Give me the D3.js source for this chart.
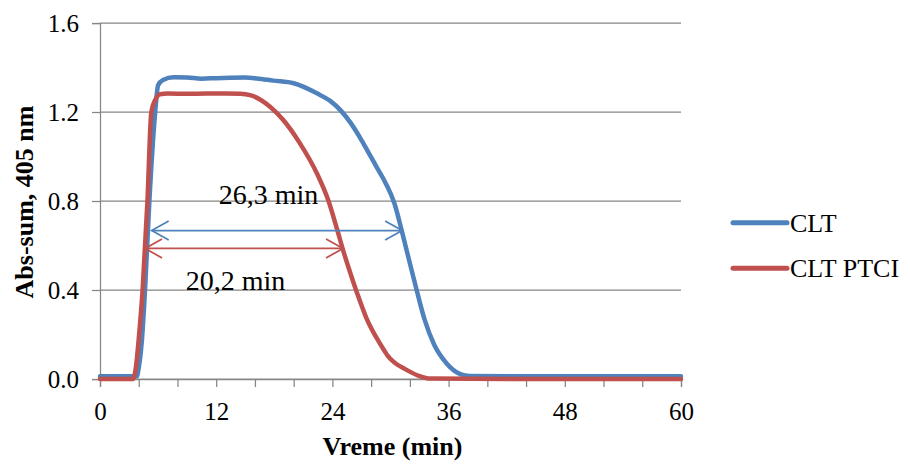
<!DOCTYPE html>
<html>
<head>
<meta charset="utf-8">
<script src="https://cdnjs.cloudflare.com/ajax/libs/d3/7.8.5/d3.min.js"></script>
<style>
  body { margin: 0; background: #fff; }
  svg text { font-family: 'Liberation Serif', 'Times New Roman', serif; }
</style>
</head>
<body>
<script>
// CLT series: time (min) and absorbance sum at 405 nm
const cltTime = [0, 3.8, 4.0, 4.3, 4.65, 5.1, 5.7, 6.0, 6.5, 7.6, 9, 10.5, 12, 15, 16.2, 17.9, 20.0, 22.4, 23.7, 24.9, 25.9, 26.85, 27.7, 28.6, 29.5, 30.4, 31.2, 32.0, 32.7, 33.5, 34.5, 35.8, 37.2, 38.2, 45, 60]
const cltAbs = [0.012, 0.012, 0.05, 0.16, 0.4, 0.8, 1.2, 1.32, 1.344, 1.356, 1.355, 1.35, 1.352, 1.355, 1.351, 1.341, 1.329, 1.284, 1.252, 1.205, 1.15, 1.085, 1.02, 0.95, 0.88, 0.79, 0.66, 0.52, 0.4, 0.27, 0.155, 0.07, 0.022, 0.013, 0.012, 0.012]

// CLT PTCI series
const ptciTime = [0, 3.4, 3.7, 4.0, 4.4, 4.9, 5.3, 5.7, 6.2, 7, 9, 11, 13, 14.5, 15.5, 17.56, 18.93, 20.65, 22.4, 23.6, 24.5, 25.2, 25.9, 26.6, 27.5, 28.9, 29.4, 29.7, 30.3, 31.7, 33.0, 34.1, 45, 60]
const ptciAbs = [0, 0, 0.05, 0.18, 0.4, 0.8, 1.2, 1.254, 1.28, 1.283, 1.282, 1.283, 1.283, 1.282, 1.276, 1.224, 1.164, 1.059, 0.924, 0.8, 0.67, 0.565, 0.47, 0.38, 0.275, 0.16, 0.125, 0.105, 0.078, 0.04, 0.013, 0.002, 0, 0]

const seriesNames = ['CLT', 'CLT PTCI']
const seriesColors = ['#4F81BD', '#C0504D']

const yTicks = [0, 0.4, 0.8, 1.2, 1.6]
const xTicks = d3.range(0, 61, 4)
const xLabelStep = 12

// width annotations: label, start, end (min), level, label position
const spanLabels = ['26,3 min', '20,2 min']
const spanStart = [5.34, 4.65]
const spanEnd = [31.2, 25.1]
const spanLevel = [0.667, 0.587]
const spanLabelX = [17.4, 14.0]
const spanLabelY = [0.787, 0.4]

const layout = { width: 910, height: 476, left: 100, right: 681, top: 23, bottom: 379 }
const serif = "'Liberation Serif', 'Times New Roman', serif"

const svg = d3.select('body').append('svg')
  .attr('width', layout.width)
  .attr('height', layout.height)
  .attr('font-family', serif)

const x = d3.scaleLinear().domain([0, 60]).range([layout.left, layout.right])
const y = d3.scaleLinear().domain([0, 1.6]).range([layout.bottom, layout.top])

const gridColor = '#868686'

// horizontal gridlines
svg.append('g')
  .selectAll('line')
  .data(yTicks)
  .enter()
  .append('line')
  .attr('x1', layout.left)
  .attr('x2', layout.right)
  .attr('y1', d => y(d))
  .attr('y2', d => y(d))
  .attr('stroke', gridColor)
  .attr('stroke-width', 1.25)

const yAxis = svg.append('g')
  .attr('transform', `translate(${layout.left},0)`)
  .call(d3.axisLeft(y).tickValues(yTicks).tickFormat(d3.format('.1f')).tickSize(8).tickPadding(13))

const xAxis = svg.append('g')
  .attr('transform', `translate(0,${layout.bottom})`)
  .call(d3.axisBottom(x).tickValues(xTicks).tickFormat(d => d % xLabelStep === 0 ? d : '').tickSize(8).tickPadding(15))

;[yAxis, xAxis].forEach(ax => {
  ax.attr('font-family', serif).attr('font-size', 25)
  ax.select('.domain').attr('stroke', gridColor).attr('stroke-width', 1.25)
  ax.selectAll('.tick line').attr('stroke', gridColor).attr('stroke-width', 1.25)
  ax.selectAll('.tick text').attr('fill', '#000')
})

// axis titles
svg.append('text')
  .attr('transform', `translate(33,202) rotate(-90)`)
  .attr('text-anchor', 'middle')
  .attr('font-size', 26)
  .attr('font-weight', 'bold')
  .text('Abs-sum, 405 nm')

svg.append('text')
  .attr('x', (layout.left + layout.right) / 2 + 2)
  .attr('y', 455)
  .attr('text-anchor', 'middle')
  .attr('font-size', 26)
  .attr('font-weight', 'bold')
  .text('Vreme (min)')

// series
const series = [
  d3.zip(cltTime, cltAbs),
  d3.zip(ptciTime, ptciAbs)
]

const line = d3.line()
  .x(d => x(d[0]))
  .y(d => y(d[1]))
  .curve(d3.curveMonotoneX)

svg.append('g')
  .selectAll('path')
  .data(series)
  .enter()
  .append('path')
  .attr('d', line)
  .attr('fill', 'none')
  .attr('stroke', (d, i) => seriesColors[i])
  .attr('stroke-width', 4.5)
  .attr('stroke-linecap', 'round')
  .attr('stroke-linejoin', 'round')

// span arrows
const head = { len: 17, half: 9.5 }
const spans = spanLabels.map((label, i) => ({
  label, color: seriesColors[i],
  x1: x(spanStart[i]), x2: x(spanEnd[i]), yy: y(spanLevel[i]),
  lx: x(spanLabelX[i]), ly: y(spanLabelY[i])
}))

const arrows = svg.append('g')
spans.forEach(s => {
  arrows.append('line')
    .attr('x1', s.x1).attr('x2', s.x2)
    .attr('y1', s.yy).attr('y2', s.yy)
    .attr('stroke', s.color).attr('stroke-width', 1.75)
  arrows.append('path')
    .attr('d', `M${s.x1 + head.len},${s.yy - head.half}L${s.x1},${s.yy}L${s.x1 + head.len},${s.yy + head.half}`)
    .attr('fill', 'none').attr('stroke', s.color).attr('stroke-width', 1.75)
  arrows.append('path')
    .attr('d', `M${s.x2 - head.len},${s.yy - head.half}L${s.x2},${s.yy}L${s.x2 - head.len},${s.yy + head.half}`)
    .attr('fill', 'none').attr('stroke', s.color).attr('stroke-width', 1.75)
  arrows.append('text')
    .attr('x', s.lx)
    .attr('y', s.ly)
    .attr('text-anchor', 'middle')
    .attr('font-size', 28)
    .text(s.label)
})

// legend
const legend = svg.append('g')
  .selectAll('g')
  .data(seriesNames)
  .enter()
  .append('g')
  .attr('transform', (d, i) => `translate(733,${222.7 + i * 45.6})`)

legend.append('line')
  .attr('x1', 0).attr('x2', 54)
  .attr('stroke', (d, i) => seriesColors[i])
  .attr('stroke-width', 5)
  .attr('stroke-linecap', 'round')

legend.append('text')
  .attr('x', 57)
  .attr('y', 9)
  .attr('font-size', 26)
  .text(d => d)
</script>
</body>
</html>
